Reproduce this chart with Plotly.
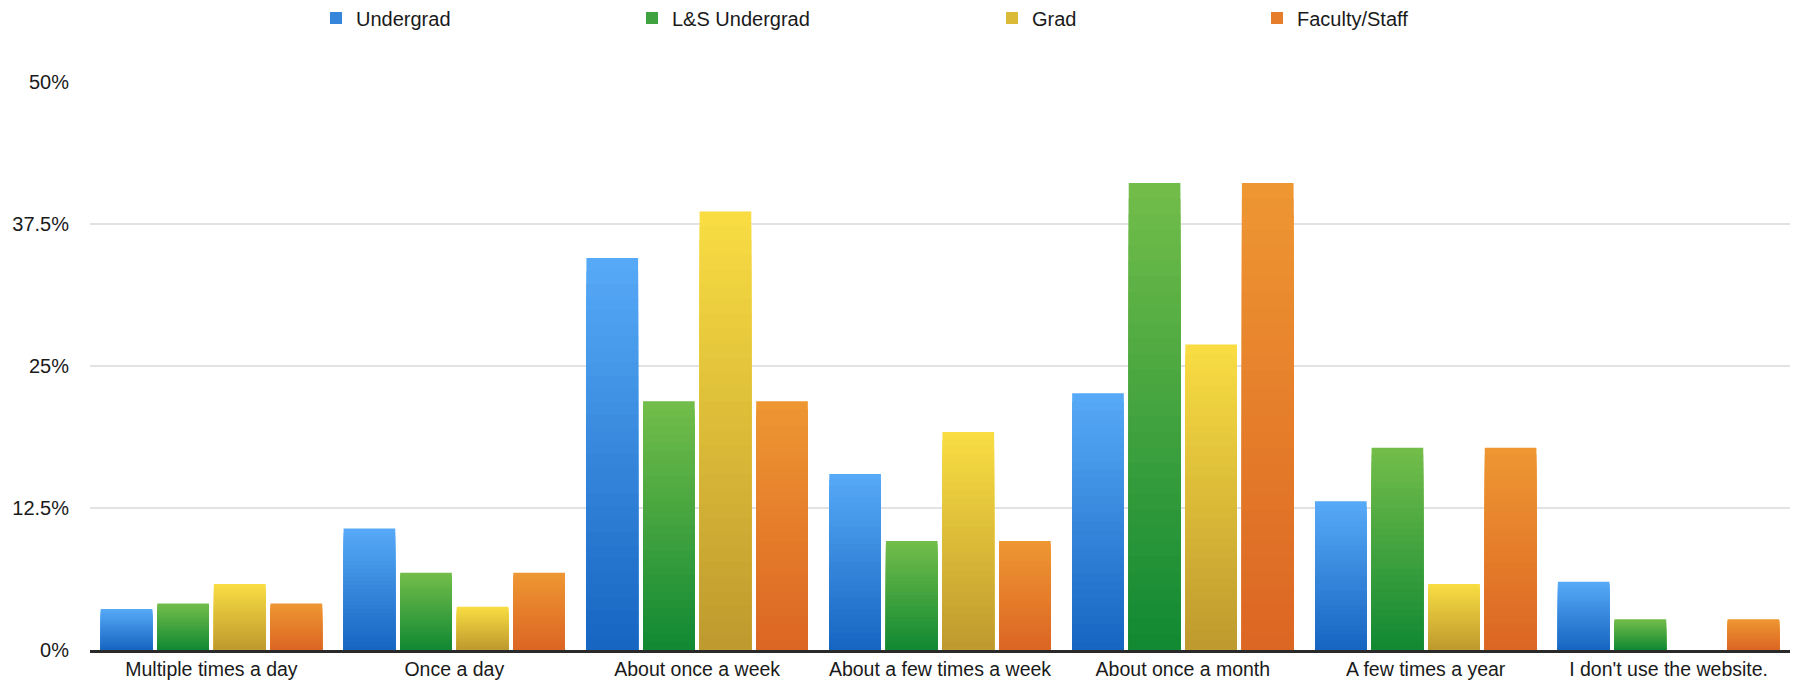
import plotly.graph_objects as go

categories = ["Multiple times a day", "Once a day", "About once a week",
              "About a few times a week", "About once a month",
              "A few times a year", "I don't use the website."]

undergrad = [3.6, 10.7, 34.5, 15.5, 22.6, 13.1, 6.0]
ls_undergrad = [4.1, 6.8, 21.9, 9.6, 41.1, 17.8, 2.7]
grad = [5.8, 3.8, 38.6, 19.2, 26.9, 5.8, 0.0]
faculty_staff = [4.1, 6.8, 21.9, 9.6, 41.1, 17.8, 2.7]

series_names = ["Undergrad", "L&S Undergrad", "Grad", "Faculty/Staff"]
series_values = [undergrad, ls_undergrad, grad, faculty_staff]
# (top colour, bottom colour) of each bar gradient
series_colors = [("#56a9f6", "#1766c2"), ("#72bd4a", "#128933"),
                 ("#f8dc42", "#bf9a2e"), ("#ee9632", "#dc6624")]
legend_x_px = [316, 632, 992, 1257]

tick_vals = [0, 12.5, 25, 37.5, 50]
tick_text = ["0%", "12.5%", "25%", "37.5%", "50%"]

L, R, T, B = 90, 9, 82, 32
W, H = 1799, 682
PW, PH = W - L - R, H - T - B
STEPS = 30
FONT = "Liberation Sans, Arial, sans-serif"


def hex2rgb(h):
    h = h.lstrip("#")
    return tuple(int(h[i:i + 2], 16) for i in (0, 2, 4))


def mix(c1, c2, t):
    a, b = hex2rgb(c1), hex2rgb(c2)
    return "rgb(%d,%d,%d)" % tuple(round(a[i] + (b[i] - a[i]) * t) for i in range(3))


fig = go.Figure()
for s, (name, vals, (top, bot)) in enumerate(zip(series_names, series_values, series_colors)):
    legend_id = "legend" if s == 0 else "legend%d" % (s + 1)
    for k in range(STEPS):
        frac = (STEPS - k) / STEPS
        t = k / (STEPS - 1)
        fig.add_trace(go.Bar(
            x=categories,
            y=[v * frac for v in vals],
            name=name,
            offsetgroup=str(s),
            marker=dict(color=mix(top, bot, t), line=dict(width=0)),
            showlegend=(k == STEPS // 2),
            legend=legend_id,
            hoverinfo="skip" if k else None,
        ))

layout_legends = {}
for s, px in enumerate(legend_x_px):
    key = "legend" if s == 0 else "legend%d" % (s + 1)
    layout_legends[key] = dict(
        x=(px - L) / PW, xanchor="left",
        y=1 + (T - 18) / PH, yanchor="middle",
        orientation="h", bgcolor="rgba(0,0,0,0)",
        font=dict(family=FONT, size=20, color="#1a1a1a"),
    )

fig.update_layout(
    width=W, height=H,
    margin=dict(l=L, r=R, t=T, b=B, pad=0, autoexpand=False),
    paper_bgcolor="white", plot_bgcolor="white",
    barmode="group", bargap=0.068, bargroupgap=0.087,
    font=dict(family=FONT, size=20, color="#1a1a1a"),
    **layout_legends,
)
fig.update_xaxes(
    showline=True, linecolor="#2a2a2a", linewidth=2.5, automargin=False,
    showgrid=False, ticks="", ticklabelstandoff=0,
    tickfont=dict(size=19.5),
)
fig.update_yaxes(
    range=[0, 50], tickvals=tick_vals, ticktext=tick_text, automargin=False,
    showgrid=True, gridcolor="#e2e2e2", gridwidth=1.5,
    zeroline=False, showline=False, ticks="", ticklabelstandoff=20,
)

fig.write_html("out.html")
